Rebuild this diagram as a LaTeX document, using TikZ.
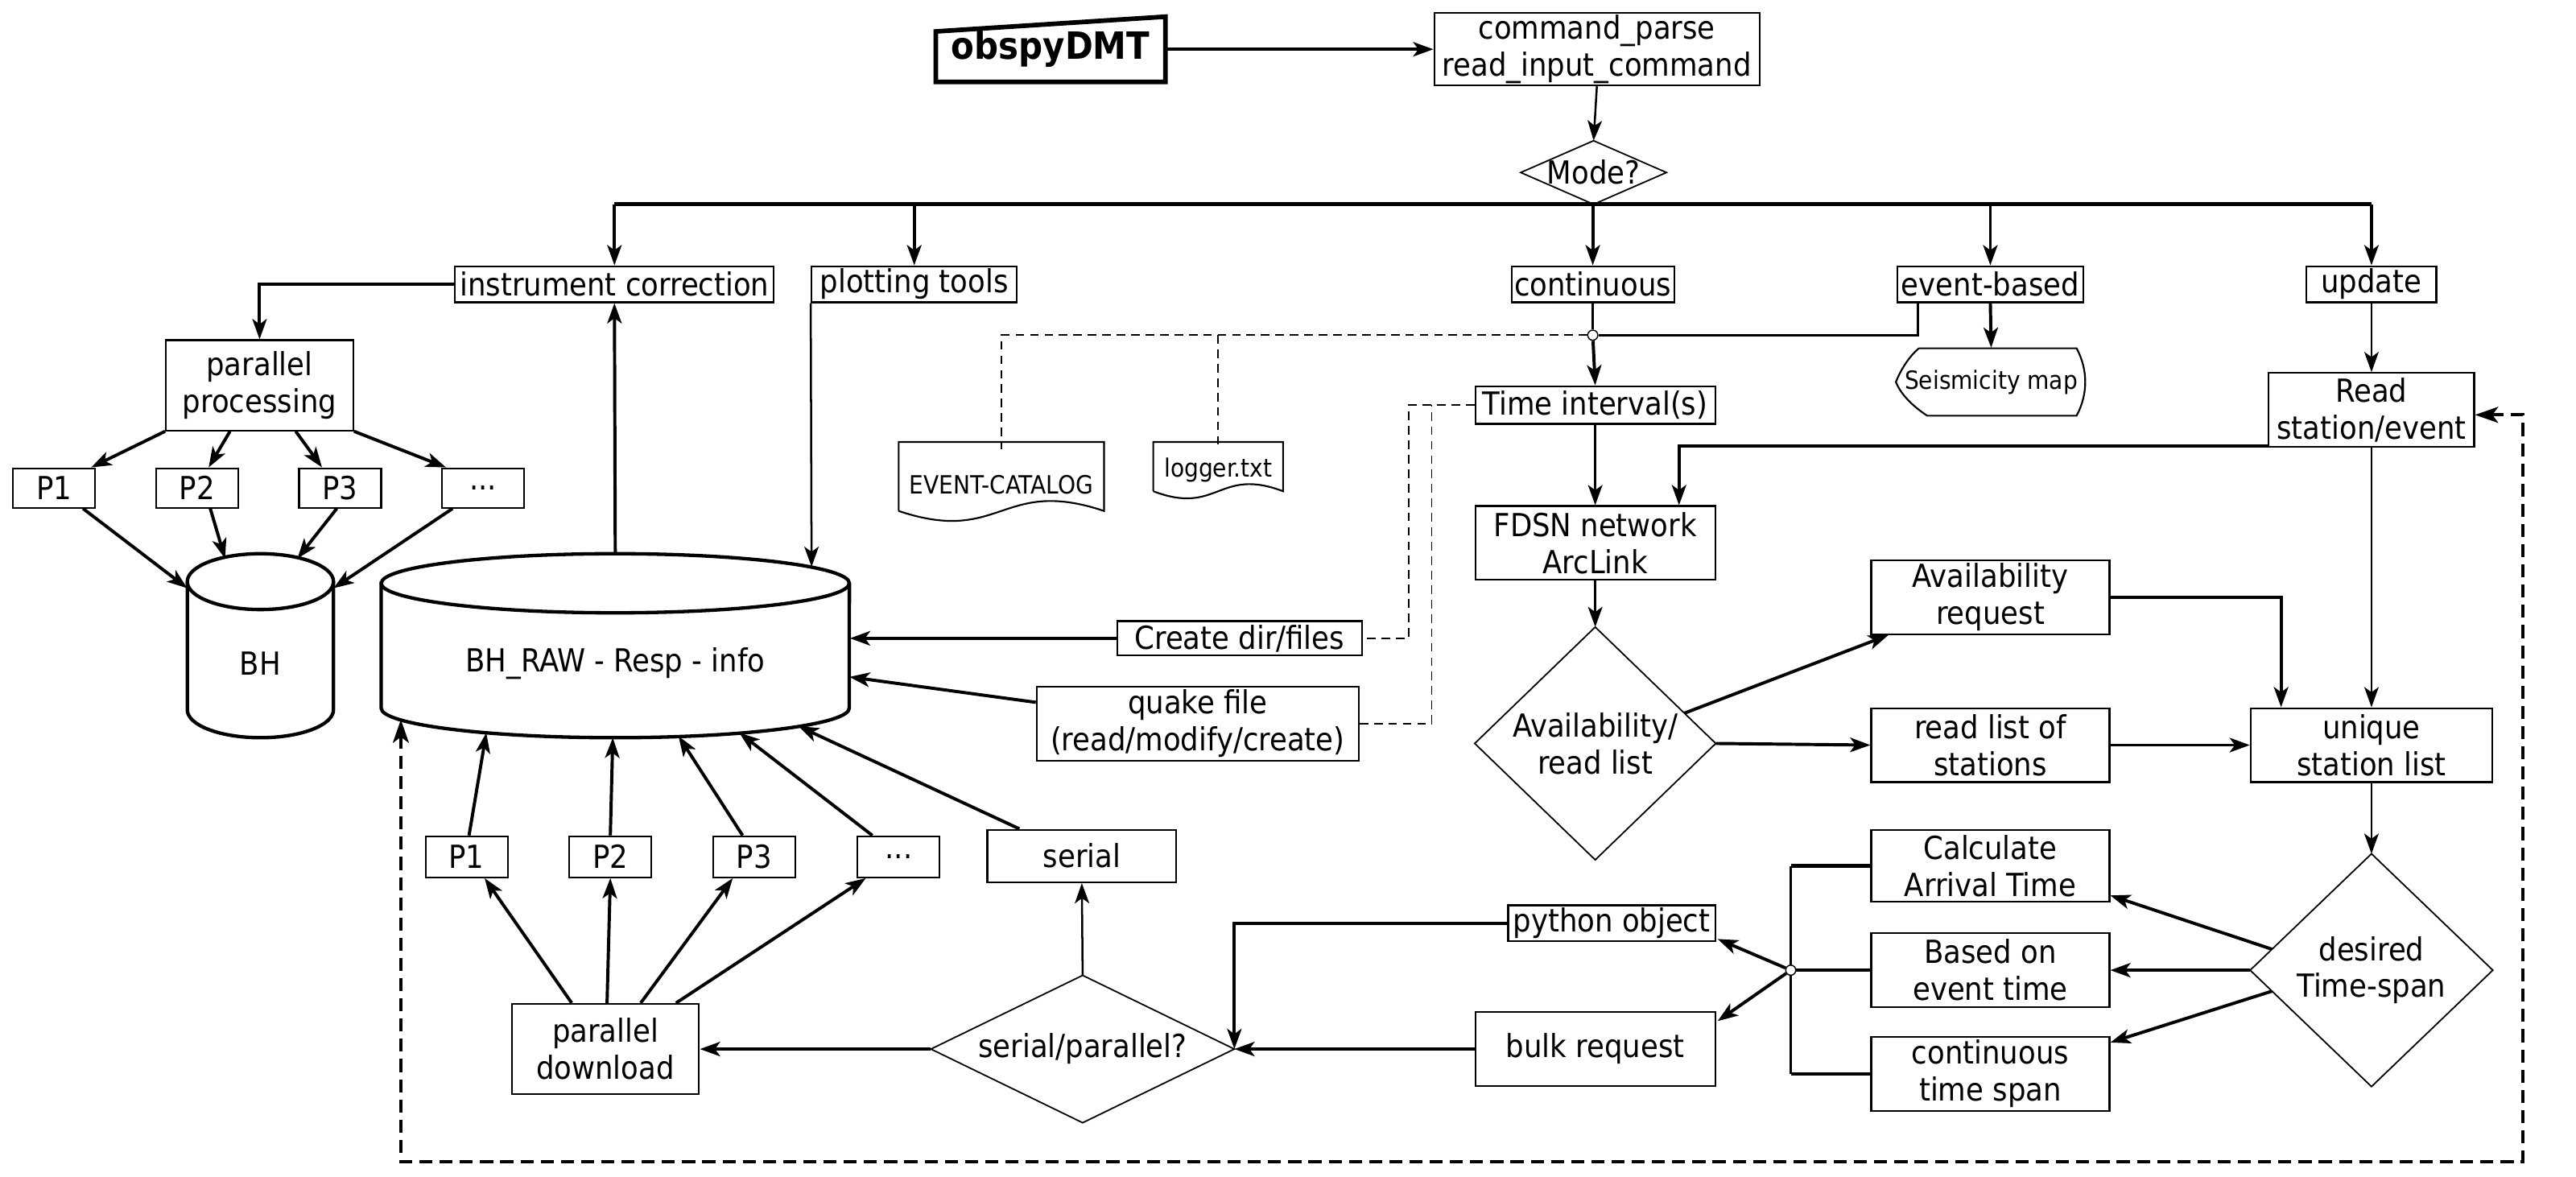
\documentclass[tikz,border=0pt]{standalone}
\usepackage{fontspec}
\setmainfont{DejaVu Sans Condensed}
\usetikzlibrary{arrows.meta,calc}
\begin{document}
\begin{tikzpicture}[x=0.02cm,y=-0.02cm,
  every node/.style={inner sep=0pt},
  txt/.style={font=\fontsize{11}{12.8}\selectfont, align=center},
  small/.style={font=\fontsize{8.7}{10}\selectfont, align=center},
  box/.style={draw, line width=0.6pt, txt},
  sz/.style 2 args={minimum width=#1*0.02cm, minimum height=#2*0.02cm},
  arr/.style={-{Stealth[length=7pt,width=5pt,inset=1.8pt]}, line width=1.1pt},
  tarr/.style={-{Stealth[length=7pt,width=5pt,inset=1.8pt]}, line width=0.7pt},
  dsh/.style={line width=0.5pt, dash pattern=on 3pt off 2pt},
  bigdash/.style={line width=1.2pt, dash pattern=on 4.5pt off 2.5pt},
  dia/.style={line width=0.5pt},
  cyl/.style={line width=1.2pt},
  jn/.style={draw, fill=white, line width=0.4pt, circle, minimum size=3.5pt}
]
\useasboundingbox (0,0) rectangle (1568,716);

% ---- top
\node (obs) [sz={139}{39}, font=\fontsize{13}{14}\selectfont\bfseries] at (639.5,30) {obspyDMT};
\draw[line width=1.6pt] (obs.south west) -- (obs.south east) -- (obs.north east) -- ($(obs.north west)+(0,9)$) -- cycle;
\node (cmd) [box, sz={198}{44}] at (972,30) {command\_parse\\read\_input\_command};
\draw[arr] (obs.east) -- (cmd.west);

\node (mode) [sz={88}{38}, txt] at (970,105) {Mode?};
\draw[dia] (mode.north) -- (mode.east) -- (mode.south) -- (mode.west) -- cycle;
\draw[tarr] (cmd.south) -- (mode.north);

% ---- mode boxes
\node (ic) [box, sz={194}{22}] at (374,173) {instrument correction};
\node (pt) [box, sz={125}{22}] at (556.5,173) {plotting tools};
\node (cont) [box, sz={99}{22}] at (969.5,173) {continuous};
\node (eb) [box, sz={113}{22}] at (1211.5,173) {event-based};
\node (up) [box, sz={79}{22}] at (1443.5,173) {update};

\draw[line width=1.4pt] (ic |- mode.south) -- (up |- mode.south);
\foreach \n in {ic,pt,cont,eb,up} \draw[arr] (\n |- mode.south) -- (\n.north);

% ---- processing branch
\node (pp) [box, sz={114}{55}] at (158,234.5) {parallel\\processing};
\draw[arr] (ic.west) -| (pp.north);
\node (p1) [box, sz={50}{24}] at (33,297) {P1};
\node (p2) [box, sz={50}{24}] at (120,297) {P2};
\node (p3) [box, sz={50}{24}] at (207,297) {P3};
\node (p4) [box, sz={50}{24}] at (294,297) {...};
\draw[arr] (pp.south west) -- ($(p1.north east)+(-3,0)$);
\draw[arr] ($(pp.south)+(-18,0)$) -- ($(p2.north)+(7,0)$);
\draw[arr] ($(pp.south)+(22,0)$) -- ($(p3.north)+(-11,0)$);
\draw[arr] (pp.south east) -- ($(p4.north west)+(3,0)$);

% BH cylinder
\node (bh) [sz={89}{112}] at (158.5,393) {};
\node (bhl) [txt] at (158.5,404) {BH};
\draw[cyl] (114,354) -- (114,432) arc[start angle=180,end angle=360,x radius=0.89cm,y radius=0.34cm] -- (203,354) arc[start angle=0,end angle=180,x radius=0.89cm,y radius=0.34cm] -- cycle;
\draw[cyl] (114,354) arc[start angle=180,end angle=360,x radius=0.89cm,y radius=0.34cm];
\coordinate (bhA) at (114,358);
\coordinate (bhB) at (137,340);
\coordinate (bhC) at (181,340);
\coordinate (bhD) at (203,358);
\draw[arr] ($(p1.south east)+(-8,0)$) -- (bhA);
\draw[arr] ($(p2.south)+(8,0)$) -- (bhB);
\draw[arr] ($(p3.south)+(-2,0)$) -- (bhC);
\draw[arr] ($(p4.south west)+(7,0)$) -- (bhD);

% BH_RAW cylinder
\node (raw) [sz={285}{112}] at (374.5,393) {};
\node (rawl) [txt] at (374.5,404) {BH\_RAW - Resp - info};
\draw[cyl] (232,355) -- (232,431) arc[start angle=180,end angle=360,x radius=2.85cm,y radius=0.36cm] -- (517,355) arc[start angle=0,end angle=180,x radius=2.85cm,y radius=0.36cm] -- cycle;
\draw[cyl] (232,355) arc[start angle=180,end angle=360,x radius=2.85cm,y radius=0.36cm];
\draw[arr] (raw.north) -- (ic.south);
\coordinate (rawtop) at (494,345);
\draw[tarr] (pt.south west) -- (rawtop);

% ---- continuous / event-based
\node (j1) [jn] at (969.5,204) {};
\draw[line width=0.7pt] (cont.south) -- (j1);
\draw[line width=0.7pt] ($(eb.south west)+(13,0)$) |- (j1);
\node (ec) [sz={125}{42}, small] at (609.5,295) {EVENT-CATALOG};
\draw[line width=0.6pt] (547,311) -- (547,269) -- (672,269) -- (672,311) .. controls (609.5,290) and (609.5,332) .. (547,311);
\node (lg) [sz={79}{30}, small] at (741.5,286) {logger.txt};
\draw[line width=0.6pt] (702,299) -- (702,269) -- (781,269) -- (781,299) .. controls (741.5,284) and (741.5,314) .. (702,299);
\draw[dsh] (j1) -| (ec.north);
\draw[dsh] (lg.north) -- (lg.north |- j1);

\node (sm) [sz={114}{41}, small] at (1212,232.5) {Seismicity map};
\draw[line width=0.6pt] (1168,212) -- (1264,212) .. controls (1271,225) and (1271,240) .. (1264,253) -- (1173,253) .. controls (1164,247) and (1157,240) .. (1154,232.5) .. controls (1157,225) and (1162,217) .. (1168,212);
\draw[arr] (eb.south) -- (sm.north);

\node (ti) [box, sz={146}{23}] at (971,246.5) {Time interval(s)};
\draw[arr] (j1) -- (ti.north);

\node (cdf) [box, sz={149}{21}] at (754.5,388.5) {Create dir/files};
\node (qf) [box, sz={196}{45}] at (729,440.5) {quake file\\(read/modify/create)};
\draw[dsh] (ti.west) -| ($(cdf.east)+(28,0)$) -- (cdf.east);
\draw[dsh] (qf.east) -| ($(ti.west)+(-26,0)$);
\draw[arr] (cdf.west) -- (cdf.west -| raw.east);
\coordinate (rawR) at (517,412);
\draw[arr] ($(qf.north west)+(0,10)$) -- (rawR);

% ---- right side
\node (fdsn) [box, sz={146}{45}] at (971,330.5) {FDSN network\\ArcLink};
\draw[tarr] (ti.south) -- (fdsn.north);
\node (rse) [box, sz={125}{45}] at (1443.5,249.5) {Read\\station/event};
\draw[tarr] (up.south) -- (rse.north);
\draw[arr] ($(rse.south west)+(0,-1)$) -| ($(fdsn.north)+(51,0)$);

\node (ad) [sz={146}{141}, txt] at (971,452.5) {Availability/\\read list};
\draw[dia] (ad.north) -- (ad.east) -- (ad.south) -- (ad.west) -- cycle;
\draw[tarr] (fdsn.south) -- (ad.north);

\node (ar) [box, sz={145}{45}] at (1211.5,363.5) {Availability\\request};
\node (rl) [box, sz={145}{45}] at (1211.5,453.5) {read list of\\stations};
\node (uq) [box, sz={147}{45}] at (1443.5,453.5) {unique\\station list};
\draw[arr] ($(ad.north)!0.74!(ad.east)$) -- ($(ar.south west)+(11,0)$);
\draw[arr] (ad.east) -- (rl.west);
\draw[arr] (ar.east) -| ($(uq.north west)+(19,0)$);
\draw[arr] (rl.east) -- (uq.west);
\draw[tarr] (rse.south) -- (uq.north);

\node (des) [sz={147}{141}, txt] at (1443.5,590.5) {desired\\Time-span};
\draw[dia] (des.north) -- (des.east) -- (des.south) -- (des.west) -- cycle;
\draw[tarr] (uq.south) -- (des.north);

\node (calc) [box, sz={145}{44}] at (1211.5,527) {Calculate\\Arrival Time};
\node (based) [box, sz={145}{45}] at (1211.5,590.5) {Based on\\event time};
\node (cts) [box, sz={145}{45}] at (1211.5,653.5) {continuous\\time span};
\draw[arr] ($(des.north)!0.82!(des.west)$) -- ($(calc.east)+(0,18)$);
\draw[arr] (des.west) -- (based.east);
\draw[arr] ($(des.south)!0.82!(des.west)$) -- ($(cts.east)+(0,-19)$);

\coordinate (j2c) at (1090,590.5);
\draw[line width=0.7pt] (j2c |- calc.west) -- (j2c |- cts.west);
\foreach \n in {calc,based,cts} \draw[line width=1.2pt] (\n.west) -- (j2c |- \n.west);
\node (j2) [jn] at (j2c) {};

\node (py) [box, sz={126}{22}] at (981,562) {python object};
\node (bulk) [box, sz={146}{45}] at (971,638.5) {bulk request};
\draw[arr] (j2) -- ($(py.south east)+(1,-2)$);
\draw[arr] (j2) -- ($(bulk.north east)+(1,6)$);

\node (sp) [sz={184}{89}, txt] at (659,638.5) {serial/parallel?};
\draw[dia] (sp.north) -- (sp.east) -- (sp.south) -- (sp.west) -- cycle;
\draw[arr] (py.west) -| (sp.east);
\draw[arr] (bulk.west) -- (sp.east);

\node (pd) [box, sz={114}{55}] at (368.5,638.5) {parallel\\download};
\draw[arr] (sp.west) -- (pd.east);
\node (ser) [box, sz={115}{32}] at (658.5,521) {serial};
\draw[tarr] (sp.north) -- (ser.south);

\node (q1) [box, sz={50}{25}] at (284,521.5) {P1};
\node (q2) [box, sz={50}{25}] at (371.5,521.5) {P2};
\node (q3) [box, sz={50}{25}] at (459,521.5) {P3};
\node (q4) [box, sz={50}{25}] at (547,521.5) {...};
\draw[arr] ($(pd.north)+(-20.5,0)$) -- ($(q1.south)+(11,0)$);
\draw[arr] ($(pd.north)+(1,0)$) -- (q2.south);
\draw[arr] ($(pd.north)+(21.5,0)$) -- ($(q3.south)+(-13,0)$);
\draw[arr] ($(pd.north)+(43,0)$) -- ($(q4.south)+(-20,0)$);

\coordinate (r1) at (296,446);
\coordinate (r2) at (373,449);
\coordinate (r3) at (413,448);
\coordinate (r4) at (450,446);
\coordinate (r5) at (486,442);
\coordinate (r0) at (244,438);
\draw[arr] ($(q1.north)+(1.5,0)$) -- (r1);
\draw[arr] (q2.north) -- (r2);
\draw[arr] ($(q3.north)+(-7,0)$) -- (r3);
\draw[arr] ($(q4.north)+(-16,0)$) -- (r4);
\draw[arr] ($(ser.north west)+(20,0)$) -- (r5);

\coordinate (lb) at (244,707);
\draw[bigdash, {Stealth[length=8pt,width=5.5pt,inset=2pt]}-{Stealth[length=8pt,width=5.5pt,inset=2pt]}] (r0) -- (lb) -| ($(rse.east)+(29,3)$) -- ($(rse.east)+(0,3)$);
\end{tikzpicture}
\end{document}
